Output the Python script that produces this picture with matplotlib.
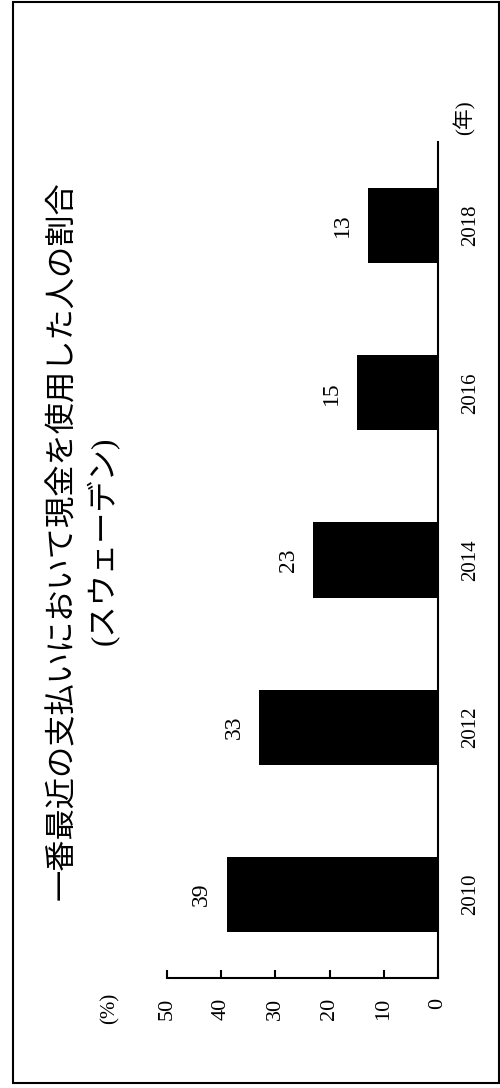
import matplotlib
matplotlib.use('Agg')
import matplotlib.pyplot as plt
from matplotlib.patches import Rectangle

years = ['2010', '2012', '2014', '2016', '2018']
share = [39, 33, 23, 15, 13]
pct_ticks = [0, 10, 20, 30, 40, 50]
title = '一番最近の支払いにおいて現金を使用した人の割合'
subtitle = '(スウェーデン)'

serif = ['Liberation Serif', 'Noto Sans CJK JP']
jp = ['Noto Sans CJK JP', 'DejaVu Sans']

fig = plt.figure(figsize=(5.0, 10.88), dpi=100)
ax = fig.add_axes([0.334, 0.1011, 0.542, 0.7684])

pos = list(range(len(years)))
ax.barh(pos, share, height=0.45, color='black')
ax.set_xlim(50, 0)
ax.set_ylim(-0.5, 4.5)

for s in ['left', 'top']:
    ax.spines[s].set_visible(False)
for s in ['right', 'bottom']:
    ax.spines[s].set_linewidth(1.5)

# year axis on the right (chart is turned on its side)
ax.yaxis.tick_right()
ax.set_yticks(pos)
ax.set_yticklabels(years, rotation=90, va='center', family=serif, fontsize=15)
ax.tick_params(axis='y', length=0, pad=17)

ax.set_xticks(pct_ticks)
ax.set_xticklabels([str(t) for t in pct_ticks], rotation=90, family=serif, fontsize=16)
ax.tick_params(axis='x', direction='in', length=5.5, width=1.5, pad=14)

for p, v in zip(pos, share):
    ax.annotate(str(v), (v, p), xytext=(-18, 0), textcoords='offset points',
                rotation=90, ha='center', va='center', family=serif, fontsize=17)

fig.text(0.124, 0.503, title, rotation=90, ha='center', va='center',
         family=jp, fontsize=22.5)
fig.text(0.206, 0.503, subtitle, rotation=90, ha='center', va='center',
         family=serif, fontsize=22.5)
fig.text(0.22, 0.0735, '(%)', rotation=90, ha='center', va='center',
         family=serif, fontsize=15)
fig.text(0.93, 0.8915, '(年)', rotation=90, ha='center', va='center',
         family=serif, fontsize=15)

fig.patches.append(Rectangle((0.026, 0.0046), 0.972, 0.994, transform=fig.transFigure,
                             fill=False, edgecolor='black', linewidth=1.5))

fig.savefig('out.png', dpi=100)
